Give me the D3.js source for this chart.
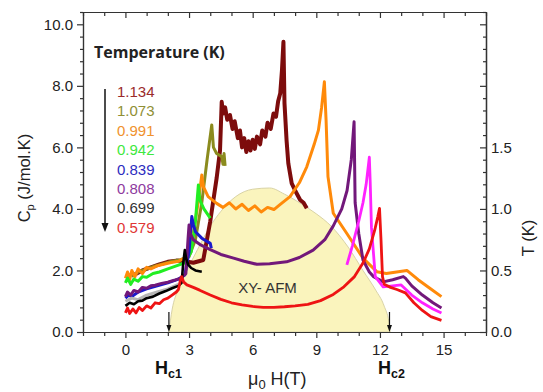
<!DOCTYPE html>
<html>
<head>
<meta charset="utf-8">
<title></title>
<script src="https://d3js.org/d3.v7.min.js"></script>
<style>
body { margin: 0; background: #fff; }
text { font-family: "Liberation Sans", Arial, sans-serif; }
</style>
</head>
<body>
<script>

var width = 543
var height = 392

// specific heat curves, [field (T), Cp (J/mol.K)]
var cp1134 = [[0.4,1.85],[0.8,2.0],[1.2,2.1],[1.6,2.2],[2.0,2.28],[2.4,2.32],[2.8,2.3],[3.2,2.25],[3.67,2.34],[4.0,3.6],[4.3,5.0],[4.46,5.9],[4.54,7.48],[4.6,7.1],[4.7,7.3],[4.8,6.9],[4.93,7.05],[5.05,6.6],[5.15,6.85],[5.3,6.3],[5.4,6.55],[5.5,6.0],[5.6,6.3],[5.7,5.85],[5.8,6.2],[5.9,5.9],[6.0,6.25],[6.1,5.95],[6.2,6.35],[6.35,6.1],[6.45,6.55],[6.6,6.35],[6.7,6.8],[6.85,6.6],[6.98,7.1],[7.1,7.0],[7.2,7.5],[7.3,7.76],[7.38,8.5],[7.45,9.43],[7.5,7.43],[7.6,6.2],[7.68,5.48],[7.84,4.83],[8.0,4.6],[8.24,4.29],[8.4,4.2],[8.55,4.02]]
var cp1073 = [[0.3,1.8],[0.6,1.95],[1.0,2.05],[1.4,2.15],[1.8,2.22],[2.2,2.3],[2.6,2.35],[3.0,2.45],[3.3,3.0],[3.6,4.2],[3.85,5.6],[4.07,6.73],[4.15,6.0],[4.3,5.8],[4.54,5.7],[4.6,5.45],[4.65,5.8],[4.7,5.4]]
var cp0991 = [[0,1.75],[0.1,1.95],[0.2,1.7],[0.3,2.0],[0.45,1.8],[0.6,2.05],[0.8,1.9],[1.0,2.1],[1.2,2.05],[1.5,2.15],[1.8,2.2],[2.1,2.25],[2.5,2.3],[2.9,2.45],[3.2,3.2],[3.45,4.3],[3.6,5.1],[3.68,4.72],[3.9,4.4],[4.3,4.18],[4.6,4.05],[4.9,4.2],[5.2,4.0],[5.5,4.15],[5.8,3.95],[6.1,4.1],[6.4,3.9],[6.7,4.05],[7.0,3.98],[7.3,4.15],[7.76,4.4],[8.2,4.85],[8.55,5.37],[8.9,6.1],[9.1,6.56],[9.25,7.3],[9.38,8.13],[9.46,6.89],[9.55,5.05],[9.8,3.86],[10.44,3.2],[11.2,2.4],[11.85,1.96],[12.3,1.9],[13.27,2.0],[13.8,1.7],[14.4,1.4],[14.9,1.15]]
var cp0942 = [[0,1.6],[0.1,1.75],[0.25,1.55],[0.4,1.72],[0.6,1.65],[0.8,1.8],[1.0,1.78],[1.3,1.9],[1.6,1.95],[2.0,2.05],[2.4,2.15],[2.8,2.25],[3.1,2.6],[3.3,3.6],[3.44,4.78],[3.5,4.3],[3.7,4.0],[4.0,3.7]]
var cp0839 = [[0,1.1],[0.15,1.2],[0.3,1.15],[0.6,1.3],[1.0,1.4],[1.5,1.5],[2.0,1.6],[2.5,1.72],[2.8,1.85],[3.0,2.6],[3.13,3.75],[3.2,3.5],[3.3,3.26],[3.6,3.05],[4.0,2.88],[4.05,2.72]]
var cp0808 = [[0,1.15],[0.1,1.3],[0.25,1.2],[0.4,1.35],[0.6,1.3],[0.8,1.45],[1.0,1.42],[1.2,1.5],[1.4,1.52],[1.7,1.58],[2.0,1.62],[2.3,1.68],[2.6,1.75],[2.85,1.9],[2.95,3.0],[3.0,3.48],[3.05,3.2],[3.2,3.0],[3.5,2.85],[4.0,2.68],[4.5,2.52],[5.1,2.4],[5.6,2.3],[6.2,2.2],[6.8,2.22],[7.6,2.28],[8.2,2.42],[8.85,2.66],[9.4,3.0],[9.8,3.45],[10.2,4.0],[10.45,4.6],[10.65,5.6],[10.78,6.83],[10.83,4.2],[11.0,3.2],[11.2,2.34],[11.5,1.95],[11.7,1.8],[12.15,1.63],[12.6,1.7],[13.1,1.8],[13.2,1.75],[13.5,1.5],[14.0,1.2],[14.5,0.95],[14.9,0.78]]
var cpGrey = [[0,1.0],[0.3,1.1],[0.6,1.05],[1.0,1.2],[1.5,1.3],[2.0,1.4],[2.5,1.55]]
var cp0699 = [[0,0.85],[0.2,0.95],[0.4,0.9],[0.6,1.0],[0.8,1.02],[1.0,1.1],[1.3,1.15],[1.6,1.25],[1.9,1.33],[2.2,1.42],[2.5,1.5],[2.65,1.6],[2.72,2.2],[2.8,2.66],[2.86,2.4],[2.95,2.2],[3.1,2.08],[3.3,2.0],[3.6,1.96]]
var cpMagenta = [[10.44,2.18],[10.7,2.8],[11.0,3.6],[11.2,4.2],[11.35,4.8],[11.5,5.68],[11.54,4.9],[11.6,3.4],[11.78,1.8],[12.15,1.47],[12.6,1.5],[13.0,1.53],[13.5,1.2],[14.0,0.95],[14.5,0.75],[14.9,0.62]]
var cp0579 = [[0,0.62],[0.1,0.78],[0.2,0.6],[0.35,0.75],[0.5,0.62],[0.65,0.8],[0.8,0.7],[1.0,0.85],[1.2,0.78],[1.4,0.95],[1.6,0.92],[1.8,1.05],[2.0,1.1],[2.2,1.2],[2.4,1.3],[2.5,1.38],[2.58,1.65],[2.65,1.8],[2.75,1.62],[2.9,1.53],[3.2,1.45],[3.5,1.36],[4,1.2],[4.5,1.06],[5,0.95],[5.5,0.88],[6,0.83],[6.5,0.8],[7,0.8],[7.5,0.82],[8,0.85],[8.6,0.9],[9.2,1.02],[9.8,1.22],[10.3,1.47],[10.8,1.8],[11.2,2.24],[11.5,2.7],[11.75,3.3],[11.9,3.75],[11.98,4.02],[12.05,3.0],[12.12,1.8],[12.2,1.55],[12.5,1.45],[12.8,1.38],[13.2,1.27],[13.6,0.95],[14.0,0.7],[14.4,0.5],[14.9,0.38]]

// XY-AFM phase boundary, [field (T), T (K)]
var domeBoundary = [[2.05,0],[2.2,0.18],[2.5,0.35],[2.9,0.5],[3.4,0.67],[4.0,0.86],[4.5,0.98],[5.2,1.1],[6.0,1.16],[6.8,1.17],[7.5,1.12],[8.3,1.04],[9.0,0.96],[9.7,0.86],[10.5,0.69],[11.2,0.5],[11.8,0.34],[12.2,0.21],[12.42,0.08],[12.48,0]]

var legendTemps = ["1.134", "1.073", "0.991", "0.942", "0.839", "0.808", "0.699", "0.579"]
var legendColors = ["#9a2a2a", "#8f8f35", "#f0922e", "#3ee83e", "#2c2cc0", "#8e3a9e", "#333333", "#e03535"]

var cpTicks = [0, 2, 4, 6, 8, 10]
var tTicks = [0, 0.5, 1.0, 1.5]
var hTicks = [0, 3, 6, 9, 12, 15]
var hcFields = [2.05, 12.45]

var series = [
	{data: cp1134, color: "#7d0c0c", w: 4},
	{data: cp1073, color: "#8b8b1e", w: 3},
	{data: cp0991, color: "#ff8a0a", w: 3},
	{data: cp0942, color: "#22ee22", w: 3},
	{data: cp0839, color: "#1a1acc", w: 3},
	{data: cp0808, color: "#72187a", w: 3},
	{data: cpGrey, color: "#b5b5b5", w: 3},
	{data: cp0699, color: "#000000", w: 2.6},
	{data: cpMagenta, color: "#ff22ff", w: 2.8},
	{data: cp0579, color: "#ee1414", w: 2.8}
]

var svg = d3.select('body').append('svg')
	.attr('width', width)
	.attr('height', height)

var x = d3.scaleLinear().domain([-2, 17]).range([83, 486])
var y = d3.scaleLinear().domain([0, 10.4]).range([332, 12])
var yT = d3.scaleLinear().domain([0, 2.6]).range([332, 12])

// dome
var area = d3.area()
	.x(function(d) { return x(d[0]) })
	.y0(yT(0))
	.y1(function(d) { return yT(d[1]) })
	.curve(d3.curveMonotoneX)

svg.append("path")
	.datum(domeBoundary)
	.attr("d", area)
	.attr("fill", "#faf4bd")
	.attr("stroke", "#d9d3a6")
	.attr("stroke-width", 1)

svg.append("text")
	.attr("x", x(6.7))
	.attr("y", 292.5)
	.attr("text-anchor", "middle")
	.style("font-size", "15px")
	.style("fill", "#333")
	.text("XY- AFM")

// curves
var line = d3.line()
	.x(function(d) { return x(d[0]) })
	.y(function(d) { return y(d[1]) })

svg.append("g").selectAll("path")
	.data(series)
	.enter().append("path")
	.attr("d", function(d) { return line(d.data) })
	.attr("fill", "none")
	.attr("stroke", function(d) { return d.color })
	.attr("stroke-width", function(d) { return d.w })
	.attr("stroke-linejoin", "round")

// axes
function styleAxis(g, showText) {
	g.selectAll("path, line").attr("stroke", "#333").attr("stroke-width", 1.2)
	g.selectAll("text").style("font-size", "15px").style("fill", "#222")
		.style("font-family", '"Liberation Sans", Arial, sans-serif')
	if (!showText) g.selectAll("text").remove()
}

var cpMinor = d3.range(0, 10.41, 0.4).filter(function(v) { return Math.abs(v / 2 - Math.round(v / 2)) > 0.01 })
var hMinor = d3.range(-2, 18).filter(function(v) { return hTicks.indexOf(v) < 0 })
var tMinor = d3.range(0, 2.61, 0.1).filter(function(v) { return Math.abs(v * 2 - Math.round(v * 2)) > 0.01 })

svg.append("g").attr("transform", "translate(83,0)")
	.call(d3.axisLeft(y).tickValues(cpMinor).tickSizeInner(3).tickSizeOuter(0).tickFormat(""))
	.call(styleAxis, false)
svg.append("g").attr("transform", "translate(83,0)")
	.call(d3.axisLeft(y).tickValues(cpTicks).tickSizeInner(6).tickSizeOuter(0).tickPadding(4).tickFormat(d3.format(".1f")))
	.call(styleAxis, true)

svg.append("g").attr("transform", "translate(0,332)")
	.call(d3.axisBottom(x).tickValues(hMinor).tickSizeInner(4).tickSizeOuter(0).tickFormat(""))
	.call(styleAxis, false)
svg.append("g").attr("transform", "translate(0,332)")
	.call(d3.axisBottom(x).tickValues(hTicks).tickSizeInner(6).tickSizeOuter(0).tickPadding(6).tickFormat(d3.format("d")))
	.call(styleAxis, true)

svg.append("g").attr("transform", "translate(0,12)")
	.call(d3.axisTop(x).tickValues(hMinor).tickSizeInner(-4).tickSizeOuter(0).tickFormat(""))
	.call(styleAxis, false)
svg.append("g").attr("transform", "translate(0,12)")
	.call(d3.axisTop(x).tickValues(hTicks).tickSizeInner(-6).tickSizeOuter(0).tickFormat(""))
	.call(styleAxis, false)

svg.append("g").attr("transform", "translate(486,0)")
	.call(d3.axisRight(yT).tickValues(tMinor).tickSizeInner(-3).tickSizeOuter(0).tickFormat(""))
	.call(styleAxis, false)
svg.append("g").attr("transform", "translate(486,0)")
	.call(d3.axisRight(yT).tickValues([2.0, 2.5]).tickSizeInner(-6).tickSizeOuter(0).tickFormat(""))
	.call(styleAxis, false)
svg.append("g").attr("transform", "translate(486,0)")
	.call(d3.axisRight(yT).tickValues(tTicks).tickSizeInner(-6).tickSizeOuter(0).tickPadding(5).tickFormat(d3.format(".1f")))
	.call(styleAxis, true)

// axis titles
var cpTitle = svg.append("text")
	.attr("transform", "translate(30,178) rotate(-90)")
	.attr("text-anchor", "middle")
	.style("font-size", "16.5px")
	.style("fill", "#222")
cpTitle.append("tspan").text("C")
cpTitle.append("tspan").attr("dy", 4).style("font-size", "11px").text("p")
cpTitle.append("tspan").attr("dy", -4).text(" (J/mol.K)")

svg.append("text")
	.attr("transform", "translate(534,238) rotate(-90)")
	.attr("text-anchor", "middle")
	.style("font-size", "16.5px")
	.style("fill", "#222")
	.text("T (K)")

var hTitle = svg.append("text")
	.attr("x", 248)
	.attr("y", 385)
	.style("font-size", "18px")
	.style("fill", "#222")
hTitle.append("tspan").text("\u03bc")
hTitle.append("tspan").attr("dy", 4).style("font-size", "13px").text("0")
hTitle.append("tspan").attr("dy", -4).text(" H(T)")

// critical fields
var hcLabels = [["c1", 155], ["c2", 378]]
hcLabels.forEach(function(l) {
	var t = svg.append("text")
		.attr("x", l[1])
		.attr("y", 374)
		.style("font-size", "18px")
		.style("font-weight", "bold")
		.style("fill", "#111")
	t.append("tspan").text("H")
	t.append("tspan").attr("dy", 4).style("font-size", "12.5px").text(l[0])
})

hcFields.forEach(function(h) {
	var hx = x(h)
	svg.append("line")
		.attr("x1", hx).attr("x2", hx)
		.attr("y1", 312).attr("y2", 326)
		.attr("stroke", "#111").attr("stroke-width", 1.2)
	svg.append("path")
		.attr("d", "M" + (hx - 2.5) + ",325 L" + (hx + 2.5) + ",325 L" + hx + ",332 Z")
		.attr("fill", "#111")
})

// legend
svg.append("text")
	.attr("x", 94)
	.attr("y", 58)
	.style("font-family", '"Open Sans", sans-serif')
	.style("font-size", "16px")
	.style("font-weight", "bold")
	.style("fill", "#222")
	.text("Temperature (K)")

svg.append("g").selectAll("text")
	.data(legendTemps)
	.enter().append("text")
	.attr("x", 117)
	.attr("y", function(d, i) { return 97 + i * 19.4 })
	.style("font-size", "15px")
	.style("fill", function(d, i) { return legendColors[i] })
	.text(function(d) { return d })

svg.append("line")
	.attr("x1", 105).attr("x2", 105)
	.attr("y1", 89).attr("y2", 225)
	.attr("stroke", "#111").attr("stroke-width", 1.5)
svg.append("path")
	.attr("d", "M101.5,223 L108.5,223 L105,232 Z")
	.attr("fill", "#111")

</script>
</body>
</html>
